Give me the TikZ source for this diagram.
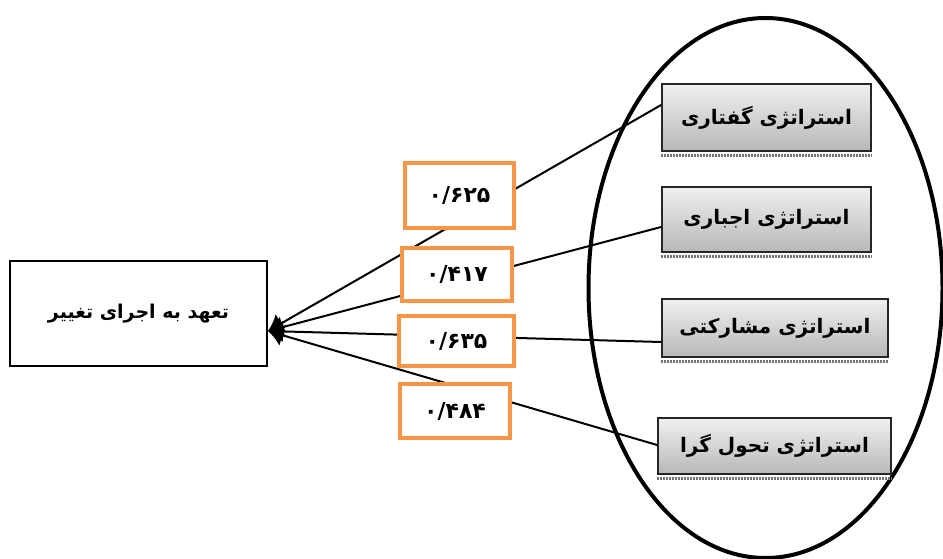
\documentclass[tikz,border=0pt]{standalone}
\usepackage{fontspec}
\newfontfamily\arabicfont[Script=Arabic]{DejaVu Sans}
\TeXXeTstate=1
\usetikzlibrary{arrows.meta,calc}
\definecolor{orangeb}{HTML}{F79646}
\begin{document}
\begin{tikzpicture}[x=1pt,y=-1pt,
  strat/.style={draw=black!85, line width=1.8pt, top color=black!6, bottom color=black!28,
     minimum width=#1, inner sep=0pt, font=\arabicfont\bfseries\fontsize{20}{24}\selectfont},
  numbox/.style={draw=orangeb, line width=4pt, fill=white, inner sep=0pt,
     font=\arabicfont\bfseries\fontsize{22}{26}\selectfont},
  mainbox/.style={draw=black, line width=2pt, fill=white, inner sep=0pt,
     font=\arabicfont\bfseries\fontsize{19}{23}\selectfont},
  conn/.style={line width=2pt, -{Latex[length=15pt,width=22pt]}},
  shadowstrip/.style={black!55, line width=3pt, dash pattern=on 1.5pt off 1.5pt}]
\useasboundingbox (0,0) rectangle (943,559);
\fill[white] (0,0) rectangle (943,559);
% ellipse
\draw[line width=4pt] (765.5,288) ellipse [x radius=177, y radius=270];
% left box
\node[mainbox, minimum width=257pt, minimum height=105pt] (lb) at (138.5,313.5) {\beginR تعهد به اجرای تغییر\endR};
% right boxes
\node[strat=209pt, minimum height=67pt] (b1) at (766.5,117.5) {\beginR استراتژی گفتاری\endR};
\node[strat=209pt, minimum height=65pt] (b2) at (766.5,219.5) {\beginR استراتژی اجباری\endR};
\node[strat=226pt, minimum height=58pt] (b3) at (775,328) {\beginR استراتژی مشارکتی\endR};
\node[strat=233pt, minimum height=56pt] (b4) at (774.5,446) {\beginR استراتژی تحول گرا\endR};
\foreach \b in {b1,b2,b3,b4}{
  \draw[shadowstrip] ([yshift=-4pt]\b.south west) -- ([yshift=-4pt]\b.south east);
}
% connectors
\draw[conn] ([yshift=12.5pt]b1.west) -- ([yshift=-17.5pt]lb.east);
\draw[conn] ([yshift=-7.5pt]b2.west) -- ([yshift=-17.5pt]lb.east);
\draw[conn] ([yshift=-14pt]b3.west) -- ([yshift=-17.5pt]lb.east);
\draw[conn] ([yshift=1pt]b4.west) -- ([yshift=-17.5pt]lb.east);
% number boxes
\node[numbox, minimum width=109pt, minimum height=65pt] (o1) at (459.5,195.5) {۰/۶۲۵};
\node[numbox, minimum width=110pt, minimum height=53pt] (o2) at (457,274.5) {۰/۴۱۷};
\node[numbox, minimum width=115pt, minimum height=50pt] (o3) at (456.5,341) {۰/۶۳۵};
\node[numbox, minimum width=110pt, minimum height=54pt] (o4) at (455,411) {۰/۴۸۴};
\end{tikzpicture}
\end{document}
